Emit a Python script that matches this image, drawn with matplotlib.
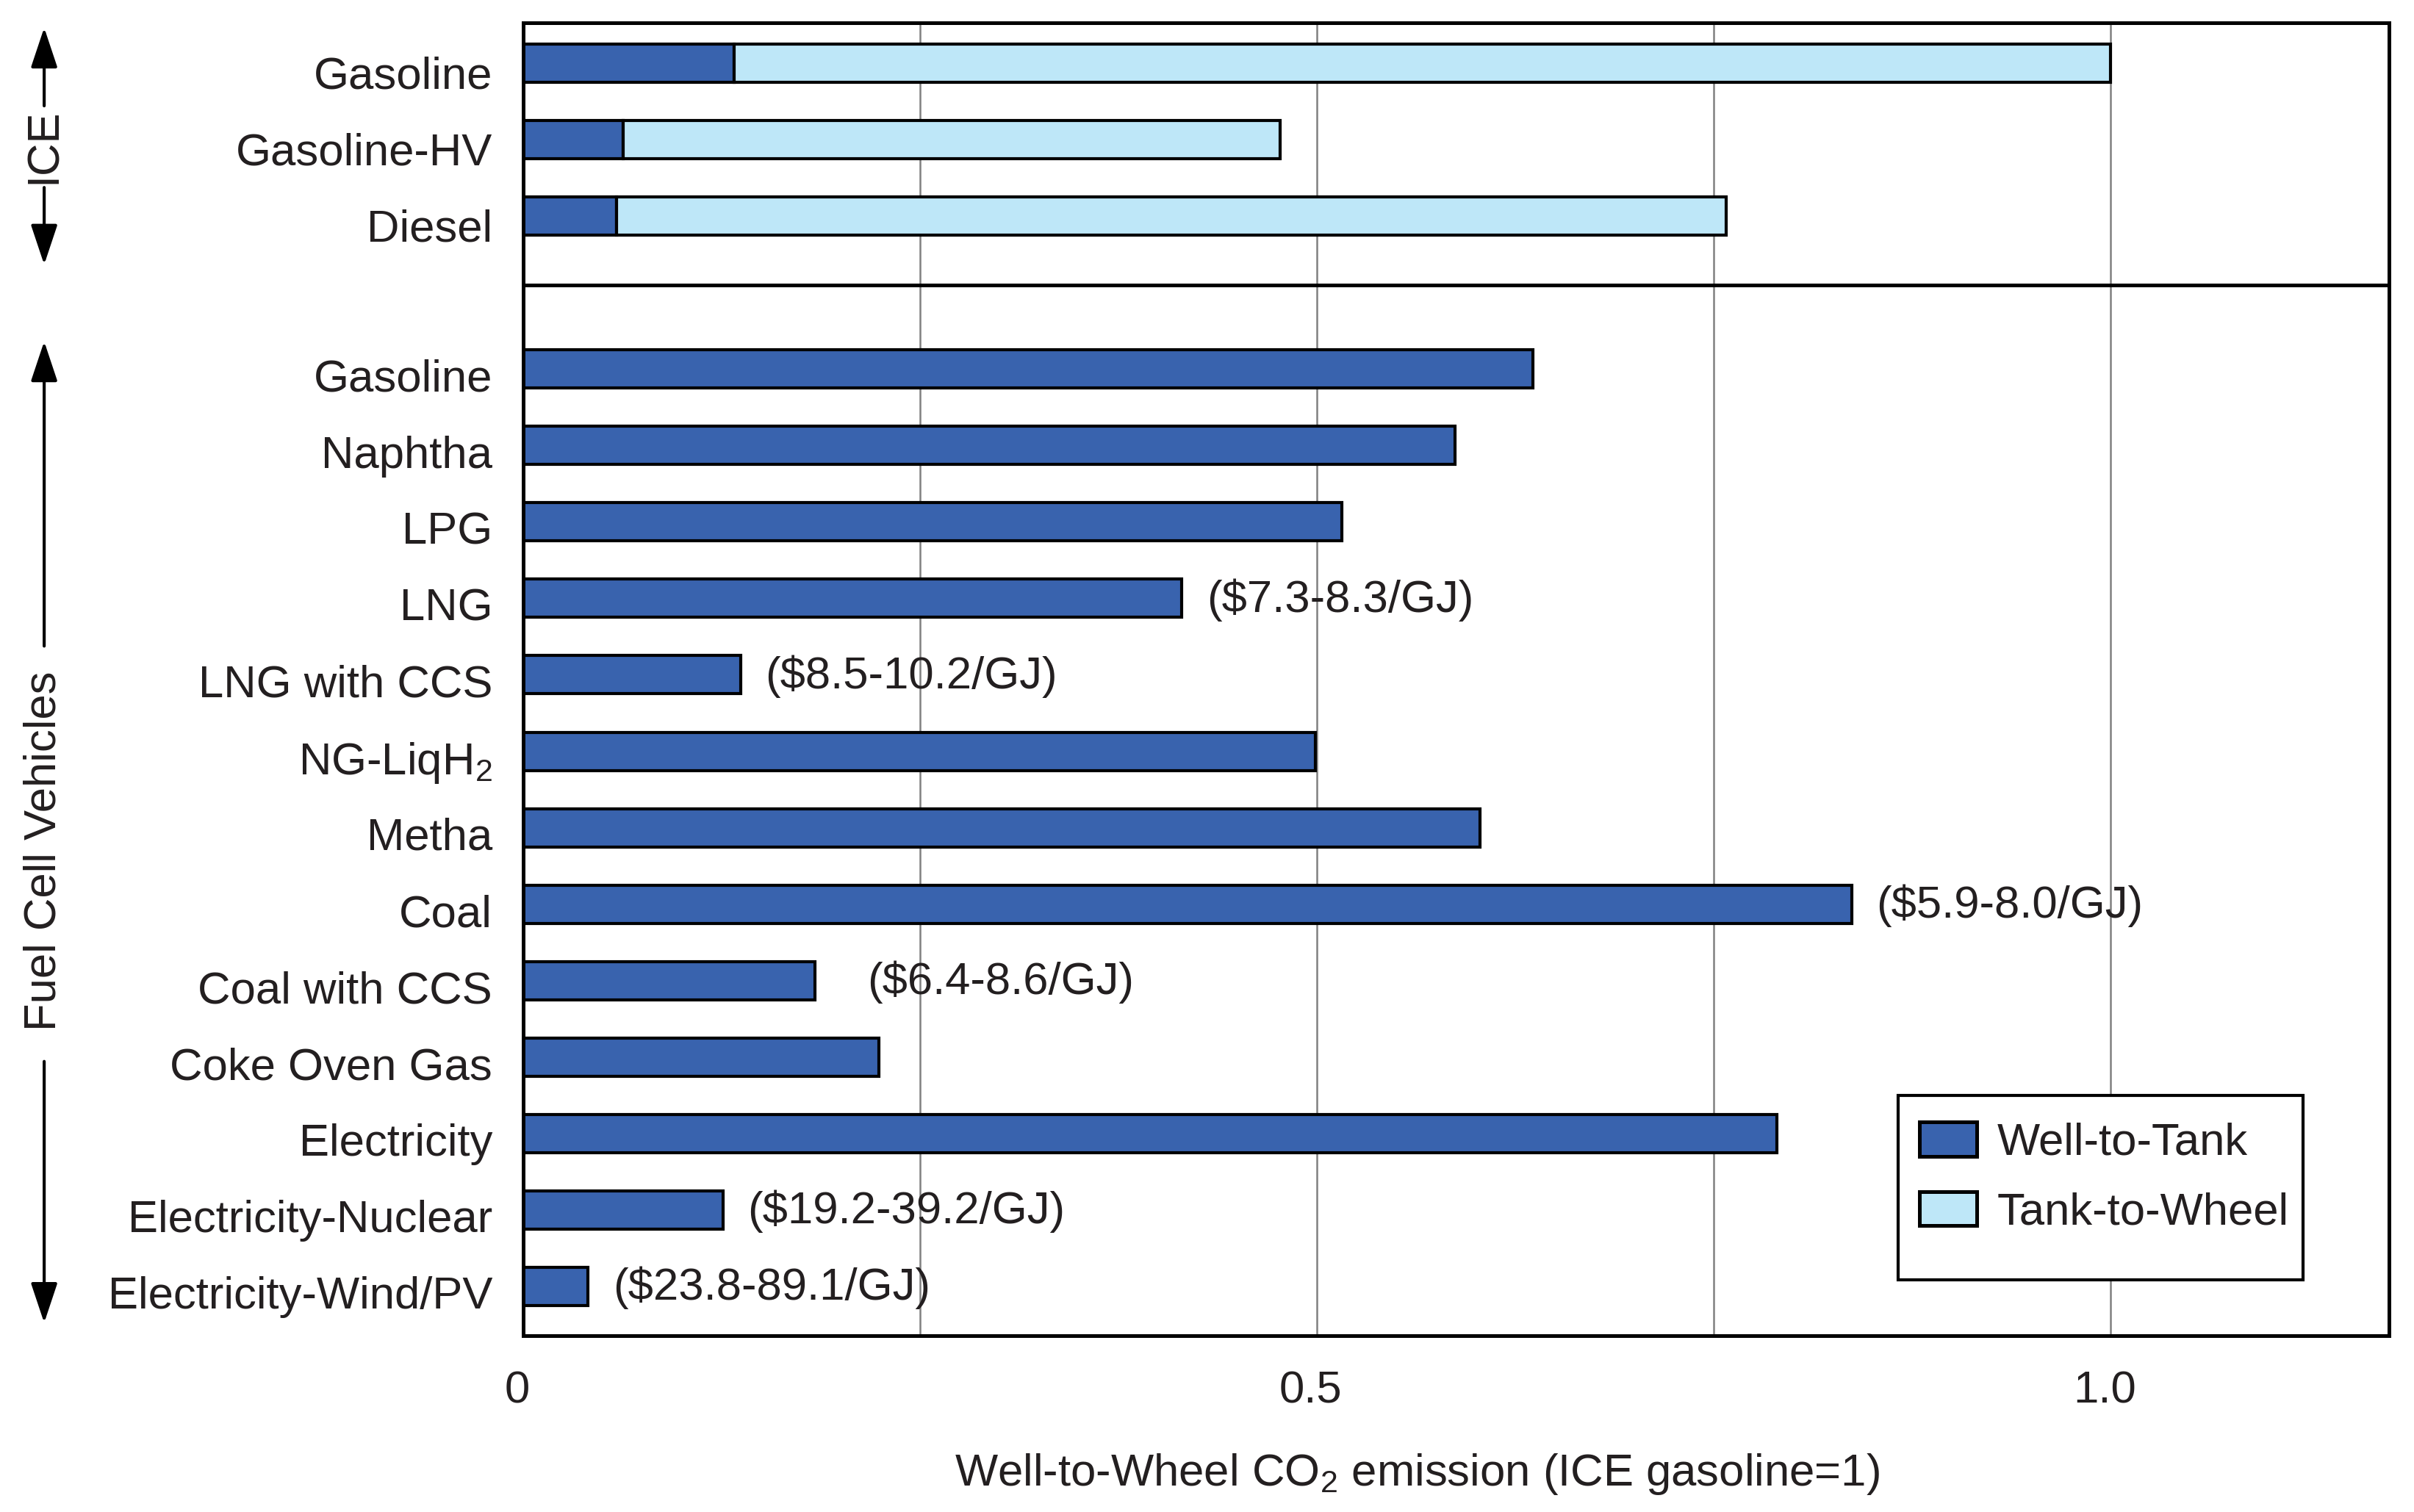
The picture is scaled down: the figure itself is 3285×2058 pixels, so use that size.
import matplotlib
matplotlib.use("Agg")
import matplotlib.pyplot as plt
import matplotlib.transforms as mtransforms
from matplotlib.patches import Patch, Rectangle
from matplotlib.ticker import FixedLocator

plt.rcParams['font.family'] = ['Liberation Sans', 'DejaVu Sans']
plt.rcParams['mathtext.fontset'] = 'custom'
plt.rcParams['mathtext.rm'] = 'Liberation Sans'
plt.rcParams['mathtext.it'] = 'Liberation Sans:italic'
plt.rcParams['mathtext.bf'] = 'Liberation Sans:bold'

# ---------------- data ----------------
ice_labels = ["Gasoline", "Gasoline-HV", "Diesel"]
ice_wtt = [0.133, 0.063, 0.059]
ice_total = [1.0, 0.477, 0.758]
ice_ttw = [t - w for t, w in zip(ice_total, ice_wtt)]

fcv_labels = ["Gasoline", "Naphtha", "LPG", "LNG", "LNG with CCS",
              r"NG-LiqH$_\mathrm{2}$", "Metha", "Coal", "Coal with CCS",
              "Coke Oven Gas", "Electricity", "Electricity-Nuclear",
              "Electricity-Wind/PV"]
fcv_wtt = [0.636, 0.587, 0.516, 0.415, 0.137, 0.499, 0.603, 0.837,
           0.184, 0.224, 0.790, 0.126, 0.041]

cost_labels = {"LNG": "($7.3-8.3/GJ)", "LNG with CCS": "($8.5-10.2/GJ)",
               "Coal": "($5.9-8.0/GJ)", "Coal with CCS": "($6.4-8.6/GJ)",
               "Electricity-Nuclear": "($19.2-39.2/GJ)",
               "Electricity-Wind/PV": "($23.8-89.1/GJ)"}

x_major = [0, 0.5, 1.0]
x_major_labels = ["0", "0.5", "1.0"]
x_minor = [0.25, 0.75]

# ---------------- style ----------------
DARK = "#3963AE"
LIGHT = "#BEE7F8"
TXT = "#231F20"
FS = 14.8
cost_offsets = {"Coal with CCS": 17}
default_offset = 8

fig = plt.figure(figsize=(10.95, 6.86), dpi=300)
ax = fig.add_axes([0.2167, 0.1168, 0.9898 - 0.2167, 0.9847 - 0.1168])

ice_pos = list(range(len(ice_labels)))
fcv_pos = [len(ice_labels) + 1 + i for i in range(len(fcv_labels))]
bar_h = 0.5
edge_lw = 1.0

ax.barh(ice_pos, ice_wtt, height=bar_h, color=DARK, edgecolor='black',
        linewidth=edge_lw, zorder=3)
ax.barh(ice_pos, ice_ttw, left=ice_wtt, height=bar_h, color=LIGHT,
        edgecolor='black', linewidth=edge_lw, zorder=3)
ax.barh(fcv_pos, fcv_wtt, height=bar_h, color=DARK, edgecolor='black',
        linewidth=edge_lw, zorder=3)

for lab, pos, val in zip(fcv_labels, fcv_pos, fcv_wtt):
    if lab in cost_labels:
        off = cost_offsets.get(lab, default_offset)
        ax.annotate(cost_labels[lab], xy=(val, pos), xytext=(off, -0.5),
                    textcoords='offset points', va='center', ha='left',
                    fontsize=FS, color=TXT, zorder=4)

ax.set_xlim(0, 1.1757)
ax.set_ylim(16.64, -0.523)
ax.axhline(2.9, color='black', lw=1.2, zorder=5)

ax.set_yticks(ice_pos + fcv_pos)
ax.set_yticklabels(ice_labels + fcv_labels, fontsize=FS, color=TXT)
ax.tick_params(axis='y', length=0, pad=10)
for i, t in enumerate(ax.get_yticklabels()):
    dy = -3.0 if i < len(ice_labels) else -2.0
    t.set_transform(t.get_transform() +
                    mtransforms.ScaledTranslation(0, dy / 72, fig.dpi_scale_trans))

ax.xaxis.set_major_locator(FixedLocator(x_major))
ax.xaxis.set_minor_locator(FixedLocator(x_minor))
ax.set_xticklabels(x_major_labels, fontsize=FS, color=TXT)
ax.tick_params(axis='x', which='both', length=0, pad=11.5)
for t in ax.get_xticklabels():
    t.set_transform(t.get_transform() +
                    mtransforms.ScaledTranslation(-2 / 72, 0, fig.dpi_scale_trans))
ax.grid(True, axis='x', which='both', color='#808080', lw=0.6)
ax.set_axisbelow(True)

for s in ax.spines.values():
    s.set_linewidth(1.2)
    s.set_color('black')
    s.set_zorder(6)

ax.set_xlabel(r"Well-to-Wheel CO$_\mathrm{2}$ emission (ICE gasoline=1)",
              fontsize=FS, color=TXT, va='center')
ax.xaxis.set_label_coords(0.479, -0.106)

# legend frame (drawn separately to get the extra bottom space of the original)
ax.add_patch(Rectangle((0.7368, 0.0422), 0.9538 - 0.7368, 0.1829 - 0.0422,
                       transform=ax.transAxes, facecolor='white',
                       edgecolor='black', lw=1.0, zorder=7))
handles = [Patch(facecolor=DARK, edgecolor='black', lw=1.2, label='Well-to-Tank'),
           Patch(facecolor=LIGHT, edgecolor='black', lw=1.2, label='Tank-to-Wheel')]
leg = ax.legend(handles=handles, loc='upper left', bbox_to_anchor=(0.734, 0.1829),
                fontsize=FS, frameon=False, borderpad=0.59,
                handlelength=1.26, handleheight=0.78, handletextpad=0.45,
                labelspacing=0.6, borderaxespad=0)
leg.set_zorder(8)
for t in leg.get_texts():
    t.set_color(TXT)

# ---------------- side group labels with arrows ----------------
ax_x = 0.0183
astyle = '-|>,head_length=0.45,head_width=0.15'

def farrow(y0, y1):
    ax.annotate('', xy=(ax_x, y1), xytext=(ax_x, y0), xycoords='figure fraction',
                textcoords='figure fraction', annotation_clip=False,
                arrowprops=dict(arrowstyle=astyle, color='black', lw=1.0,
                                mutation_scale=25, shrinkA=0, shrinkB=0))

fig.text(ax_x, 0.9034, "ICE", rotation=90, ha='center', va='center',
         fontsize=FS, color=TXT)
farrow(0.930, 0.9817)
farrow(0.876, 0.825)

fig.text(ax_x, 0.4374, "Fuel Cell Vehicles", rotation=90, ha='center',
         va='center', fontsize=FS, color=TXT)
farrow(0.5727, 0.7742)
farrow(0.298, 0.1251)

fig.savefig("out.png", dpi=300)
